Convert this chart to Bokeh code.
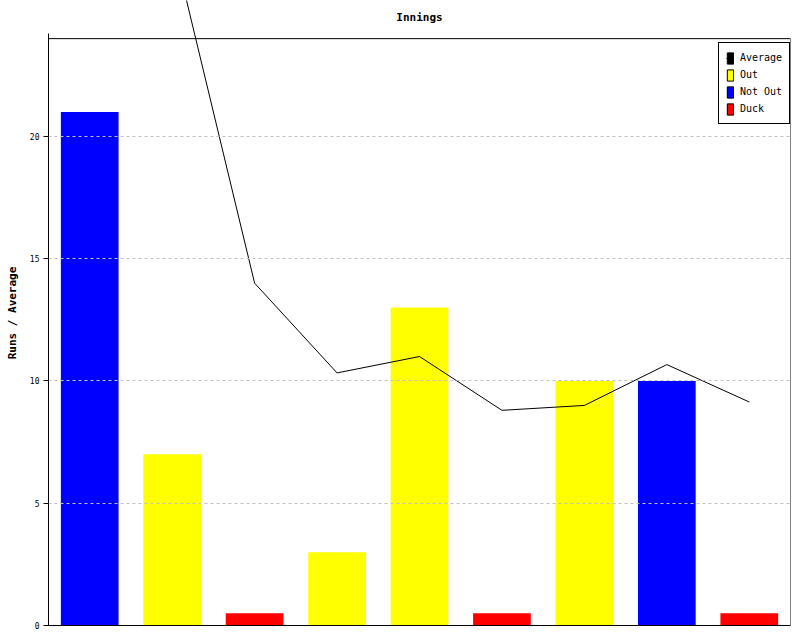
import numpy as np
from bokeh.plotting import figure
from bokeh.models import (ColumnDataSource, CDSView, GroupFilter, Range1d, FixedTicker,
                          Legend, LegendItem, Label, BoxAnnotation)
from bokeh.embed import file_html
from bokeh.resources import INLINE

# ---- data ----
innings = [1, 2, 3, 4, 5, 6, 7, 8, 9]
runs = [21, 7, 0, 3, 13, 0, 10, 10, 0]
status = ["Not Out", "Out", "Duck", "Out", "Out", "Duck", "Out", "Not Out", "Duck"]
bar_heights = [21, 7, 0.5, 3, 13, 0.5, 10, 10, 0.5]   # ducks drawn as a small stub
average = [np.nan, 28.0, 14.0, 10.33, 11.0, 8.8, 9.0, 10.67, 9.14]
y_ticks = [0, 5, 10, 15, 20]
grid_ticks = [5, 10, 15, 20]
status_order = ["Out", "Not Out", "Duck"]
status_colors = {"Out": "#ffff00", "Not Out": "#0000ff", "Duck": "#ff0000"}

MONO = "DejaVu Sans Mono"

src = ColumnDataSource(dict(
    x=innings, top=bar_heights, runs=runs, status=status,
    color=[status_colors[s] for s in status],
))
avg_src = ColumnDataSource(dict(x=innings, avg=np.array(average, dtype=float)))

p = figure(width=800, height=640,
           x_range=Range1d(0.5, 9.5), y_range=Range1d(0, 25.56),
           output_backend="svg", toolbar_location=None,
           min_border_left=48, min_border_right=10, min_border_top=0, min_border_bottom=15)
p.outline_line_color = None
p.background_fill_color = "white"

# frame box (top at 24)
p.add_layout(BoxAnnotation(bottom=0, top=24, fill_alpha=0, line_color="black",
                           line_alpha=1, line_width=1))

bar_renderers = {}
for s in status_order:
    view = CDSView(filter=GroupFilter(column_name="status", group=s))
    bar_renderers[s] = p.vbar(x="x", top="top", width=0.7, source=src, view=view,
                              fill_color="color", line_color=None)

line_r = p.line(x="x", y="avg", source=avg_src, line_color="black", line_width=1)

# axes
p.yaxis.ticker = FixedTicker(ticks=y_ticks)
p.yaxis.bounds = (0, 24.2)
p.yaxis.axis_line_color = "black"
p.yaxis.major_tick_line_color = "black"
p.yaxis.major_tick_in = 0
p.yaxis.major_tick_out = 5
p.yaxis.minor_tick_line_color = None
p.yaxis.major_label_text_font = MONO
p.yaxis.major_label_text_font_size = "8px"
p.yaxis.major_label_text_color = "black"
p.yaxis.major_label_standoff = 4
p.yaxis.axis_label = "Runs / Average"
p.yaxis.axis_label_text_font = MONO
p.yaxis.axis_label_text_font_size = "11px"
p.yaxis.axis_label_text_font_style = "bold"
p.yaxis.axis_label_text_color = "black"
p.yaxis.axis_label_standoff = 8

p.xaxis.ticker = FixedTicker(ticks=[])
p.xaxis.minor_tick_line_color = None
p.xaxis.major_tick_line_color = None
p.xaxis.major_label_text_font_size = "0px"
p.xaxis.axis_line_color = "black"

p.xgrid.visible = False
p.ygrid.ticker = FixedTicker(ticks=grid_ticks)
p.ygrid.grid_line_color = "#c0c0c0"
p.ygrid.grid_line_dash = "3 3"
p.ygrid.level = "annotation"

# title as a label so the frame can reach the top of the canvas
p.add_layout(Label(x=(p.x_range.start + p.x_range.end) / 2, y=24.87, text="Innings",
                   text_font=MONO, text_font_size="11px", text_font_style="bold",
                   text_color="black", text_align="center", text_baseline="middle"))

# legend keys (filled swatches with a black outline, as in the reference);
# their single zero-height bar sits outside the visible x range
keys = {}
keys["Average"] = p.vbar(x=[0], top=[0], width=0.7, fill_color="black", line_color="black")
for s in status_order:
    keys[s] = p.vbar(x=[0], top=[0], width=0.7, fill_color=status_colors[s],
                     line_color="black")

items = [LegendItem(label="Average", renderers=[line_r, keys["Average"]])]
for s in status_order:
    items.append(LegendItem(label=s, renderers=[bar_renderers[s], keys[s]]))

legend = Legend(items=items, location=(670, 501), margin=0, padding=7, spacing=2,
                glyph_width=8, glyph_height=14, label_standoff=6,
                label_text_font=MONO, label_text_font_size="10px", label_text_color="black",
                label_height=15, border_line_color="black", border_line_alpha=1,
                border_line_width=1, background_fill_alpha=1)
p.add_layout(legend)

open("out.html", "w").write(file_html(p, INLINE))
